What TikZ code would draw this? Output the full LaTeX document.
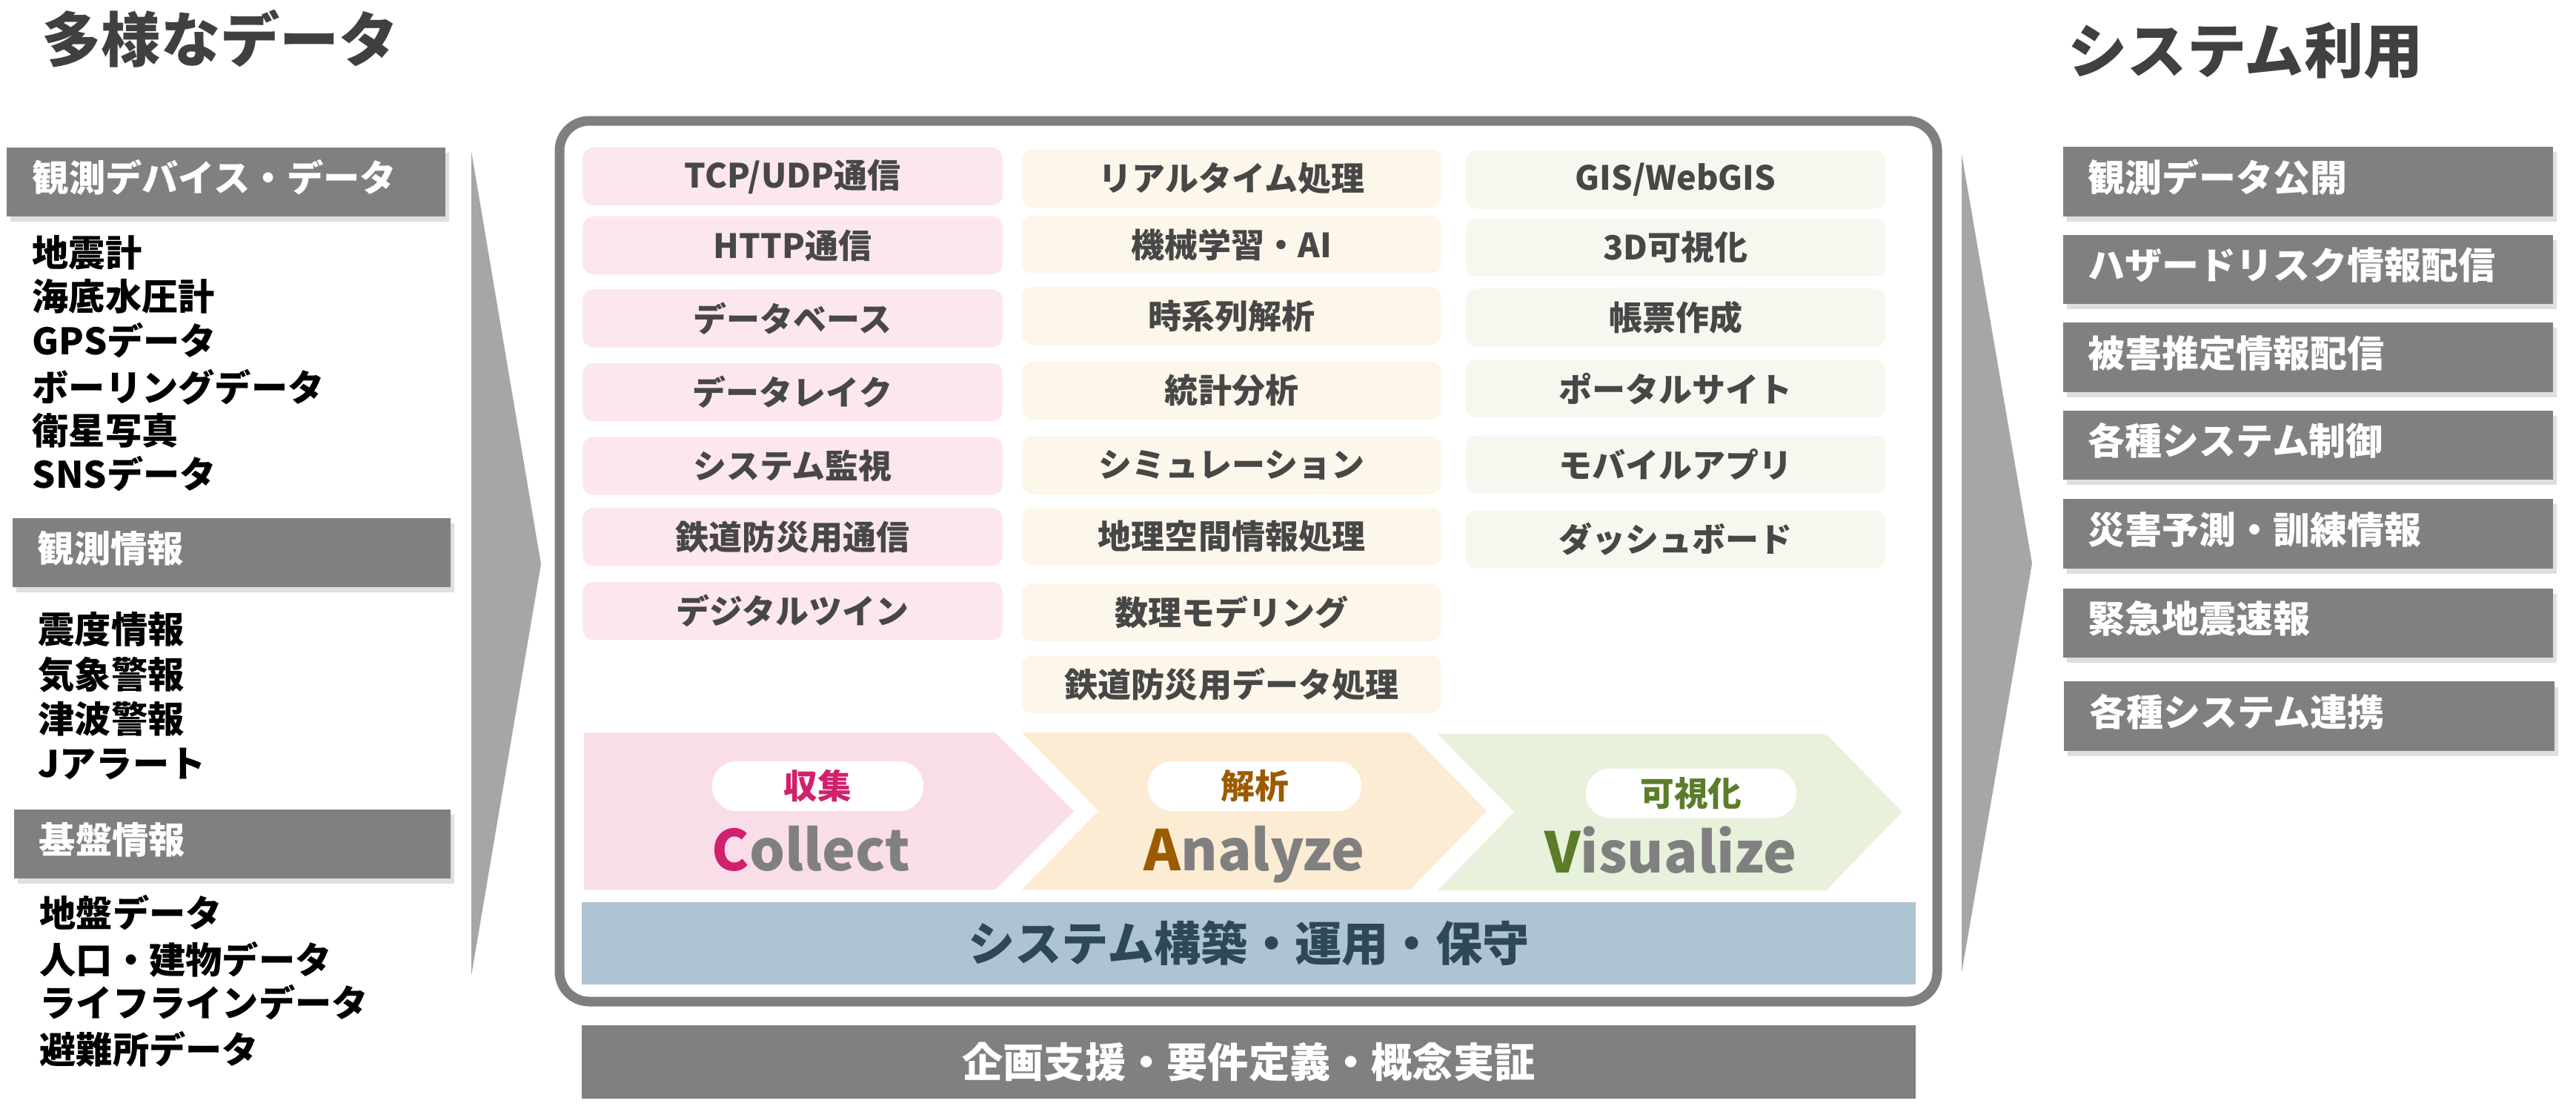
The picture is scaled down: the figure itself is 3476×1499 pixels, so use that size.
\documentclass[tikz,border=0pt]{standalone}
\usepackage{fontspec}
\setmainfont{Noto Sans CJK JP}
\usetikzlibrary{shadows}
\definecolor{titlegray}{HTML}{404040}
\definecolor{hdrgray}{HTML}{808080}
\definecolor{wedgegray}{HTML}{A6A6A6}
\definecolor{pinkbg}{HTML}{FCE6EF}
\definecolor{orangebg}{HTML}{FDF6EA}
\definecolor{greenbg}{HTML}{F5F8EF}
\definecolor{chevpink}{HTML}{F9DEEA}
\definecolor{chevorange}{HTML}{FDECD4}
\definecolor{chevgreen}{HTML}{E8F1DB}
\definecolor{cmag}{HTML}{D1206E}
\definecolor{cbrown}{HTML}{9C5B00}
\definecolor{cgreen}{HTML}{5B7D2A}
\definecolor{wordgray}{HTML}{808080}
\definecolor{barblue}{HTML}{AEC4D2}
\definecolor{bartext}{HTML}{2F4858}
\definecolor{boxtext}{HTML}{474747}
\definecolor{framegray}{HTML}{7F7F7F}
\tikzset{
  txt/.style={inner sep=0pt, text height=0.88em, text depth=0.12em},
  hdr/.style={fill=hdrgray, minimum height=0.93cm, inner sep=0pt,
    drop shadow={shadow xshift=0.05cm, shadow yshift=-0.07cm, opacity=0.25}},
  hdrtext/.style={txt, text=white, font=\fontsize{14}{16}\selectfont\bfseries, anchor=west},
  rhdrtext/.style={txt, text=white, font=\fontsize{14.2}{16}\selectfont\bfseries, anchor=west},
  item/.style={txt, text=black, font=\fontsize{14}{16}\selectfont\bfseries, anchor=west},
  cellbox/.style={rounded corners=0.14cm, minimum width=5.66cm, minimum height=0.78cm,
    inner sep=0pt, text=boxtext, font=\fontsize{12.8}{15}\selectfont\bfseries},
  pinkcell/.style={cellbox, fill=pinkbg},
  orangecell/.style={cellbox, fill=orangebg},
  greencell/.style={cellbox, fill=greenbg},
  pill/.style={fill=white, rounded corners=0.33cm, minimum height=0.67cm, inner sep=0pt,
    font=\fontsize{13}{15}\selectfont\bfseries},
  bigword/.style={anchor=base, inner sep=0pt, font=\fontsize{21.5}{25}\selectfont\bfseries},
  titletext/.style={txt, text=titlegray, font=\fontsize{22.8}{26}\selectfont\bfseries, anchor=west}
}
\begin{document}
\begin{tikzpicture}[x=0.01cm, y=-0.01cm]
\useasboundingbox (0,0) rectangle (3476,1499);
\fill[white] (0,0) rectangle (3476,1499);

% titles
\node[titletext] (tl) at (56,70) {多様なデータ};
\node[titletext] (tr) at (2790,85) {システム利用};

% left headers
\node[hdr, minimum width=5.92cm] (h1) at (305,245.5) {};
\node[hdrtext] (h1t) at ([xshift=0.35cm]h1.west) {観測デバイス・データ};
\node[hdr, minimum width=5.91cm] (h2) at (312.5,745.5) {};
\node[hdrtext] (h2t) at ([xshift=0.34cm]h2.west) {観測情報};
\node[hdr, minimum width=5.89cm] (h3) at (313.5,1138) {};
\node[hdrtext] (h3t) at ([xshift=0.34cm]h3.west) {基盤情報};

% left items
\node[item] (a1) at (43,346) {地震計};
\node[item] (a2) at (43,405) {海底水圧計};
\node[item] (a3) at (43,465) {GPSデータ};
\node[item] (a4) at (43,528) {ボーリングデータ};
\node[item] (a5) at (43,586) {衛星写真};
\node[item] (a6) at (43,645) {SNSデータ};
\node[item] (b1) at (51,854) {震度情報};
\node[item] (b2) at (51,915) {気象警報};
\node[item] (b3) at (51,975) {津波警報};
\node[item] (b4) at (51,1035) {Jアラート};
\node[item] (c1) at (53,1237) {地盤データ};
\node[item] (c2) at (53,1300) {人口・建物データ};
\node[item] (c3) at (53,1358) {ライフラインデータ};
\node[item] (c4) at (53,1421) {避難所データ};

% wedges
\fill[wedgegray] (636,204) -- (730,761) -- (636,1316) -- cycle;
\fill[wedgegray] (2647,208) -- (2742,760) -- (2647,1312) -- cycle;

% frame
\draw[line width=0.13cm, framegray, rounded corners=0.4cm] (755,163) rectangle (2614,1351);

% column 1
\node[pinkcell] (p1) at (1069.5,238) {TCP/UDP通信};
\node[pinkcell] (p2) at (1069.5,331) {HTTP通信};
\node[pinkcell] (p3) at (1069.5,429.5) {データベース};
\node[pinkcell] (p4) at (1069.5,529) {データレイク};
\node[pinkcell] (p5) at (1069.5,628.5) {システム監視};
\node[pinkcell] (p6) at (1069.5,724) {鉄道防災用通信};
\node[pinkcell] (p7) at (1069.5,824) {デジタルツイン};

% column 2
\node[orangecell] (o1) at (1662,240.5) {リアルタイム処理};
\node[orangecell] (o2) at (1662,330) {機械学習・AI};
\node[orangecell] (o3) at (1662,426) {時系列解析};
\node[orangecell] (o4) at (1662,527) {統計分析};
\node[orangecell] (o5) at (1662,627.5) {シミュレーション};
\node[orangecell] (o6) at (1662,724) {地理空間情報処理};
\node[orangecell] (o7) at (1662,826) {数理モデリング};
\node[orangecell] (o8) at (1662,923) {鉄道防災用データ処理};

% column 3
\node[greencell] (g1) at (2261,242.5) {GIS/WebGIS};
\node[greencell] (g2) at (2261,333.5) {3D可視化};
\node[greencell] (g3) at (2261,428.5) {帳票作成};
\node[greencell] (g4) at (2261,524.5) {ポータルサイト};
\node[greencell] (g5) at (2261,626.5) {モバイルアプリ};
\node[greencell] (g6) at (2261,727.5) {ダッシュボード};

% chevrons
\fill[chevpink] (788,988) -- (1343,988) -- (1449,1094) -- (1343,1200) -- (788,1200) -- cycle;
\fill[chevorange] (1379,988) -- (1903,988) -- (2006,1094) -- (1903,1200) -- (1379,1200) -- (1482,1094) -- cycle;
\fill[chevgreen] (1940,990) -- (2464,990) -- (2567,1095) -- (2464,1201) -- (1940,1201) -- (2043,1095) -- cycle;

\node[pill, minimum width=2.85cm, text=cmag] (k1) at (1103.5,1060.5) {収集};
\node[pill, minimum width=2.88cm, text=cbrown] (k2) at (1693,1060.5) {解析};
\node[pill, minimum width=2.84cm, text=cgreen] (k3) at (2282,1070) {可視化};

\node[bigword] (w1) at (1094.5,1174) {\textcolor{cmag}{C}\textcolor{wordgray}{ollect}};
\node[bigword] (w2) at (1692.5,1174) {\textcolor{cbrown}{A}\textcolor{wordgray}{nalyze}};
\node[bigword] (w3) at (2254.5,1177) {\textcolor{cgreen}{V}\textcolor{wordgray}{isualize}};

% bars
\node[fill=barblue, minimum width=17.98cm, minimum height=1.11cm, inner sep=0pt,
  text=bartext, font=\fontsize{18}{20}\selectfont\bfseries] (sys) at (1685,1272.5) {システム構築・運用・保守};
\node[fill=hdrgray, minimum width=17.98cm, minimum height=0.99cm, inner sep=0pt,
  text=white, font=\fontsize{15.7}{18}\selectfont\bfseries] (plan) at (1685,1432.5) {企画支援・要件定義・概念実証};

% right headers
\node[hdr, minimum width=6.61cm] (r1) at (3114.5,245) {};
\node[rhdrtext] (r1t) at ([xshift=0.34cm]r1.west) {観測データ公開};
\node[hdr, minimum width=6.61cm] (r2) at (3114.5,363.5) {};
\node[rhdrtext] (r2t) at ([xshift=0.34cm]r2.west) {ハザードリスク情報配信};
\node[hdr, minimum width=6.61cm] (r3) at (3114.5,482) {};
\node[rhdrtext] (r3t) at ([xshift=0.34cm]r3.west) {被害推定情報配信};
\node[hdr, minimum width=6.61cm] (r4) at (3114.5,600.5) {};
\node[rhdrtext] (r4t) at ([xshift=0.34cm]r4.west) {各種システム制御};
\node[hdr, minimum width=6.61cm] (r5) at (3114.5,720) {};
\node[rhdrtext] (r5t) at ([xshift=0.34cm]r5.west) {災害予測・訓練情報};
\node[hdr, minimum width=6.61cm] (r6) at (3114.5,840.5) {};
\node[rhdrtext] (r6t) at ([xshift=0.34cm]r6.west) {緊急地震速報};
\node[hdr, minimum width=6.61cm] (r7) at (3116,966) {};
\node[rhdrtext] (r7t) at ([xshift=0.34cm]r7.west) {各種システム連携};
\end{tikzpicture}
\end{document}
